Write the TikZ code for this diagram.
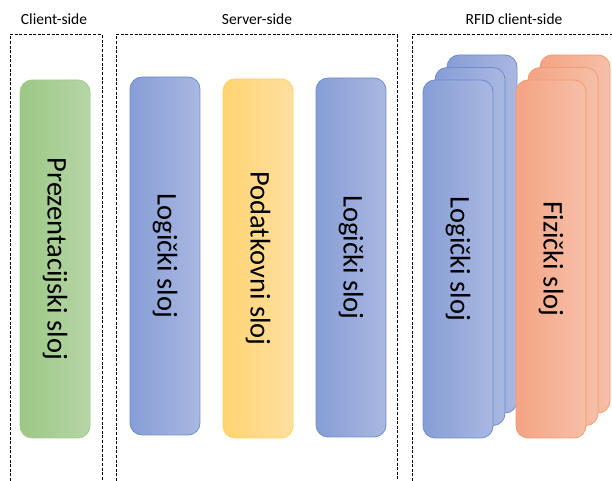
\documentclass[tikz,border=0pt]{standalone}
\usepackage{fontspec}
\setmainfont{Carlito}
\definecolor{greenL}{HTML}{9CC785}
\definecolor{greenR}{HTML}{B6D6A6}
\definecolor{greenD}{HTML}{A5CC8E}
\definecolor{blueL}{HTML}{879DD6}
\definecolor{blueR}{HTML}{AAB8E1}
\definecolor{blueD}{HTML}{6E8DD0}
\definecolor{yellowL}{HTML}{FFD472}
\definecolor{yellowR}{HTML}{FEDF9F}
\definecolor{yellowD}{HTML}{FFD157}
\definecolor{orangeL}{HTML}{F4A383}
\definecolor{orangeR}{HTML}{F6C0A8}
\definecolor{orangeD}{HTML}{F29B70}
\tikzset{
  layer/.style={rounded corners=12pt, minimum width=70pt, line width=0.8pt},
  zone/.style={dash pattern=on 3pt off 1.6pt, line width=1pt},
  layertext/.style={rotate=-90, font=\fontsize{28.5}{31}\selectfont},
  zonetext/.style={font=\fontsize{15.5}{18}\selectfont}
}
\begin{document}
\begin{tikzpicture}[x=1pt, y=1pt]
  \useasboundingbox (0,0) rectangle (612,481);

  % zones
  \draw[zone] (10,0) -- (10,446) -- (102,446) -- (102,0);
  \draw[zone] (116,0) -- (116,446) -- (397,446) -- (397,0);
  \draw[zone] (412,0) -- (412,446) -- (612,446);
  \node[zonetext] (client) at (54,462) {Client-side};
  \node[zonetext] (server) at (257,462) {Server-side};
  \node[zonetext] (rfid) at (514,462) {RFID client-side};

  % layers
  \node[layer, minimum height=358pt, draw=greenD, left color=greenL, right color=greenR] (prez) at (55,222) {};
  \node[layertext] (prezT) at (prez.center) {Prezentacijski sloj};
  \node[layer, minimum height=358pt, draw=blueD, left color=blueL, right color=blueR] (log1) at (165,225) {};
  \node[layertext] (log1T) at (log1.center) {Logički sloj};
  \node[layer, minimum height=359pt, draw=yellowD, left color=yellowL, right color=yellowR] (data) at (258,222.5) {};
  \node[layertext] (dataT) at (data.center) {Podatkovni sloj};
  \node[layer, minimum height=359pt, draw=blueD, left color=blueL, right color=blueR] (log2) at (351,223.5) {};
  \node[layertext] (log2T) at (log2.center) {Logički sloj};

  % rfid stacks
  \node[layer, minimum height=358pt, draw=blueD, left color=blueL, right color=blueR] (rlog3) at (482,247) {};
  \node[layer, minimum height=358pt, draw=blueD, left color=blueL, right color=blueR] (rlog2) at (470,234.5) {};
  \node[layer, minimum height=358pt, draw=blueD, left color=blueL, right color=blueR] (rlog1) at (458,222) {};
  \node[layertext] (rlogT) at (rlog1.center) {Logički sloj};
  \node[layer, minimum height=358pt, draw=orangeD, left color=orangeL, right color=orangeR] (fiz3) at (575,247) {};
  \node[layer, minimum height=358pt, draw=orangeD, left color=orangeL, right color=orangeR] (fiz2) at (563,234.5) {};
  \node[layer, minimum height=358pt, draw=orangeD, left color=orangeL, right color=orangeR] (fiz1) at (551,222) {};
  \node[layertext] (fizT) at (fiz1.center) {Fizički sloj};
\end{tikzpicture}
\end{document}
